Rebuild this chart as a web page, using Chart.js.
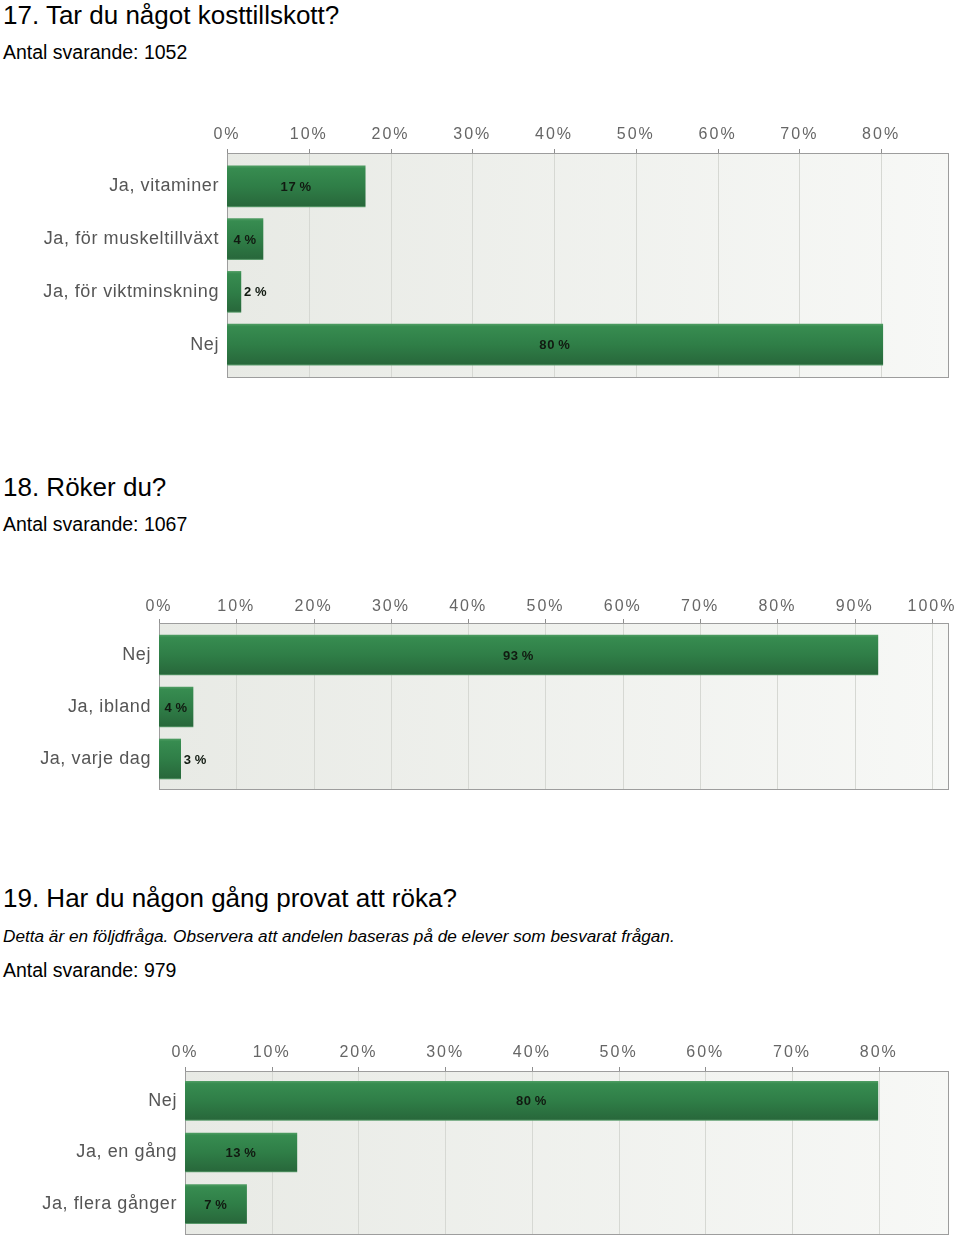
<!DOCTYPE html>
<html>
<head>
<meta charset="utf-8">
<script src="https://cdn.jsdelivr.net/npm/chart.js@4.4.1/dist/chart.umd.min.js"></script>
<style>
html,body{margin:0;padding:0;background:#fff;}
body{width:960px;height:1238px;position:relative;overflow:hidden;font-family:"Liberation Sans",Arial,sans-serif;color:#000;}
.t{position:absolute;left:3px;white-space:nowrap;line-height:1;}
.h{font-size:26px;}
.s{font-size:19.5px;}
.i{font-size:17.2px;font-style:italic;}
canvas{position:absolute;left:0;}
</style>
</head>
<body>
<div class="t h" style="top:1.5px">17. Tar du något kosttillskott?</div>
<div class="t s" style="top:42.5px">Antal svarande: 1052</div>
<canvas id="c17" width="960" height="290" style="top:100px;width:960px;height:290px"></canvas>

<div class="t h" style="top:473.5px">18. Röker du?</div>
<div class="t s" style="top:514.5px">Antal svarande: 1067</div>
<canvas id="c18" width="960" height="240" style="top:570px;width:960px;height:240px"></canvas>

<div class="t h" style="top:884.5px">19. Har du någon gång provat att röka?</div>
<div class="t i" style="top:927.5px">Detta är en följdfråga. Observera att andelen baseras på de elever som besvarat frågan.</div>
<div class="t s" style="top:960.5px">Antal svarande: 979</div>
<canvas id="c19" width="960" height="218" style="top:1020px;width:960px;height:218px"></canvas>

<script>
// ---- data ----
const q17Categories = ["Ja, vitaminer", "Ja, för muskeltillväxt", "Ja, för viktminskning", "Nej"];
const q17Values = [16.9, 4.4, 1.7, 80.2];

const q18Categories = ["Nej", "Ja, ibland", "Ja, varje dag"];
const q18Values = [93.0, 4.4, 2.8];

const q19Categories = ["Nej", "Ja, en gång", "Ja, flera gånger"];
const q19Values = [79.9, 12.9, 7.1];

// ---- plugins ----
const plotBox = {
  id: 'plotBox',
  beforeDatasetsDraw(chart, args, opts) {
    const ctx = chart.ctx, a = chart.chartArea, x = chart.scales.x;
    const top = Math.round(a.top - opts.padTop), bottom = Math.round(a.bottom + opts.padBottom);
    const left = Math.round(a.left), right = Math.round(a.right);
    ctx.save();
    const g = ctx.createLinearGradient(left, 0, right, 0);
    g.addColorStop(0, '#e8eae5');
    g.addColorStop(1, '#f7f8f6');
    ctx.fillStyle = g;
    ctx.fillRect(left, top, right - left, bottom - top);
    ctx.lineWidth = 1;
    ctx.strokeStyle = '#d6d8d3';
    x.ticks.forEach(t => {
      if (t.value === 0) return;
      const px = Math.round(x.getPixelForValue(t.value)) + 0.5;
      ctx.beginPath(); ctx.moveTo(px, top); ctx.lineTo(px, bottom); ctx.stroke();
    });
    ctx.strokeStyle = '#8e8e8e';
    x.ticks.forEach(t => {
      const px = Math.round(x.getPixelForValue(t.value)) + 0.5;
      ctx.beginPath(); ctx.moveTo(px, top - 4); ctx.lineTo(px, top); ctx.stroke();
    });
    ctx.strokeStyle = '#9d9d9d';
    ctx.strokeRect(left + 0.5, top + 0.5, right - left - 1, bottom - top - 1);
    ctx.restore();
  }
};

const valueLabels = {
  id: 'valueLabels',
  afterDatasetsDraw(chart) {
    const ctx = chart.ctx;
    const meta = chart.getDatasetMeta(0);
    const vals = chart.data.datasets[0].data;
    ctx.save();
    ctx.font = 'bold 13px "Liberation Sans", Arial, sans-serif';
    try { ctx.letterSpacing = '0.6px'; } catch (e) {}
    ctx.fillStyle = '#111a11';
    ctx.textBaseline = 'middle';
    meta.data.forEach((bar, i) => {
      const txt = Math.round(vals[i]) + '\u2009%';
      const w = ctx.measureText(txt).width;
      const bw = bar.x - bar.base;
      if (w + 6 < bw) {
        ctx.textAlign = 'center';
        ctx.fillText(txt, (bar.x + bar.base) / 2, bar.y + 1);
      } else {
        ctx.textAlign = 'left';
        ctx.fillText(txt, bar.x + 3, bar.y + 1);
      }
    });
    ctx.restore();
  }
};

function patchSpacing(scale, sp) {
  if (scale._spPatched) return;
  scale._spPatched = true;
  const orig = scale.drawLabels;
  scale.drawLabels = function (area) {
    const c = this.ctx;
    const prev = c.letterSpacing;
    try { c.letterSpacing = sp; } catch (e) {}
    orig.call(this, area);
    try { c.letterSpacing = prev || '0px'; } catch (e) {}
  };
}

function barFill(context, thick) {
  const chart = context.chart;
  const y = chart.scales && chart.scales.y;
  if (!y || !chart.chartArea) return '#2f7d46';
  const cy = y.getPixelForValue(context.dataIndex);
  const g = chart.ctx.createLinearGradient(0, cy - thick / 2, 0, cy + thick / 2);
  g.addColorStop(0, '#4e9c62');
  g.addColorStop(0.06, '#378c50');
  g.addColorStop(0.5, '#2f7e47');
  g.addColorStop(0.97, '#28683b');
  g.addColorStop(1, '#5f9f70');
  return g;
}

function makeChart(id, cats, vals, cfg) {
  return new Chart(document.getElementById(id), {
    type: 'bar',
    data: {
      labels: cats,
      datasets: [{
        data: vals,
        backgroundColor: (c) => barFill(c, cfg.thick),
        borderWidth: 0,
        barThickness: cfg.thick
      }]
    },
    options: {
      indexAxis: 'y',
      responsive: false,
      animation: false,
      devicePixelRatio: 1,
      layout: { padding: { left: 0, right: 11, top: 0, bottom: cfg.padBottom } },
      plugins: {
        legend: { display: false },
        tooltip: { enabled: false },
        plotBox: { padTop: cfg.boxTop, padBottom: cfg.boxBottom }
      },
      scales: {
        x: {
          position: 'top',
          min: 0,
          max: cfg.max,
          grid: { display: false, drawTicks: false },
          border: { display: false },
          ticks: {
            stepSize: 10,
            includeBounds: false,
            autoSkip: false,
            maxRotation: 0,
            padding: cfg.tickPad,
            color: '#666666',
            font: { family: '"Liberation Sans", Arial, sans-serif', size: 16 },
            callback: (v) => v + '%'
          },
          afterFit: (s) => { s.height = cfg.xh; s.paddingLeft = 0; s.paddingRight = 0; patchSpacing(s, '2px'); }
        },
        y: {
          grid: { display: false, drawTicks: false },
          border: { display: false },
          ticks: {
            padding: 8,
            color: '#555555',
            font: { family: '"Liberation Sans", Arial, sans-serif', size: 18 }
          },
          afterFit: (s) => { s.width = cfg.left; s.paddingTop = 0; s.paddingBottom = 0; patchSpacing(s, '0.6px'); }
        }
      }
    },
    plugins: [plotBox, valueLabels]
  });
}

makeChart('c17', q17Categories, q17Values, { left: 227, max: 88.3, xh: 60, padBottom: 19, boxTop: 7, boxBottom: 7, thick: 41, tickPad: 16 });
makeChart('c18', q18Categories, q18Values, { left: 159, max: 102.2, xh: 59, padBottom: 25, boxTop: 6, boxBottom: 5, thick: 40, tickPad: 13 });
makeChart('c19', q19Categories, q19Values, { left: 185, max: 88.1, xh: 55, padBottom: 8, boxTop: 4, boxBottom: 5, thick: 39, tickPad: 13 });
</script>
</body>
</html>
